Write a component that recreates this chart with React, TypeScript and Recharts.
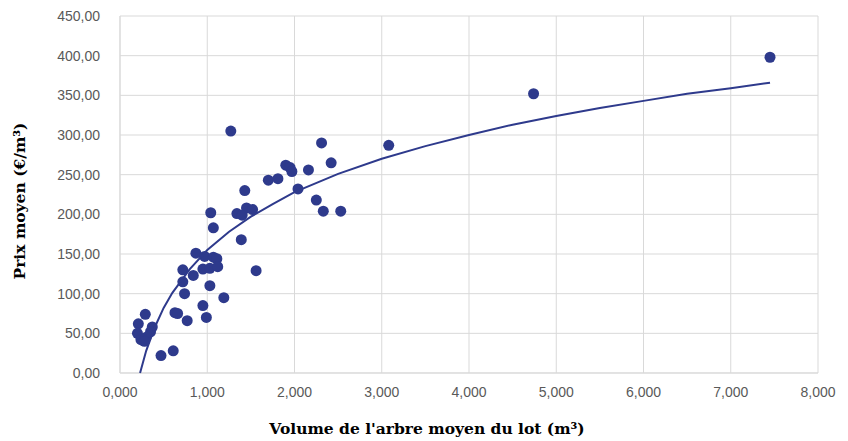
import React from 'react';
import { ScatterChart, Scatter, XAxis, YAxis, CartesianGrid } from 'recharts';

const volumes = [
  7.45, 4.74, 3.08, 1.27, 2.31, 2.42, 1.90, 1.95, 1.97, 2.16,
  1.70, 1.81, 2.04, 2.25, 2.33, 2.53, 1.43, 1.34, 1.45, 1.52,
  1.40, 1.39, 1.04, 1.07, 0.87, 0.97, 1.07, 1.11, 0.72, 0.95,
  1.03, 1.12, 1.56, 0.84, 0.72, 1.03, 0.74, 1.19, 0.95, 0.63,
  0.66, 0.77, 0.99, 0.47, 0.61, 0.21, 0.29, 0.37, 0.20, 0.24,
  0.30, 0.35, 0.28,
];
const prices = [
  398, 352, 287, 305, 290, 265, 262, 259, 254, 256,
  243, 245, 232, 218, 204, 204, 230, 201, 208, 206,
  199, 168, 202, 183, 151, 147, 146, 144, 130, 131,
  132, 134, 129, 123, 115, 110, 100, 95, 85, 76,
  75, 66, 70, 22, 28, 62, 74, 58, 50, 42,
  45, 52, 40,
];

const trendX = [0.23, 0.3, 0.4, 0.5, 0.6, 0.8, 1.0, 1.25, 1.5, 1.75, 2.0, 2.5, 3.0, 3.5, 4.0, 4.5, 5.0, 5.5, 6.0, 6.5, 7.0, 7.45];
const trendY = [0, 28, 58, 82, 101, 131, 155, 178, 197, 213, 228, 251, 270, 286, 300, 313, 324, 334, 343, 352, 359, 366];

const xTicks = [0, 1, 2, 3, 4, 5, 6, 7, 8];
const yTicks = [0, 50, 100, 150, 200, 250, 300, 350, 400, 450];

const xTitle = "Volume de l'arbre moyen du lot (m³)";
const yTitle = 'Prix moyen (€/m³)';

const points = volumes.map((v, i) => ({ x: v, y: prices[i] }));
const trend = trendX.map((v, i) => ({ x: v, y: trendY[i] }));

const NAVY = '#2e3a8c';
const GRID = '#d9d9d9';
const TICK = { fill: '#595959', fontSize: 14, fontFamily: 'Liberation Sans, Arial, sans-serif' };
const TITLE_FONT = 'DejaVu Serif, serif';

const fmt = (d: number) => (v: number) => v.toFixed(d).replace('.', ',');

export default function App() {
  return (
    <div style={{ position: 'absolute', left: 0, top: 0, background: '#fff' }}>
      <ScatterChart width={848} height={441} margin={{ top: 16, right: 30, left: 0, bottom: 0 }}>
        <CartesianGrid stroke={GRID} strokeWidth={1} />
        <XAxis
          type="number"
          dataKey="x"
          domain={[0, 8]}
          ticks={xTicks}
          tickFormatter={fmt(3)}
          height={68}
          tickSize={0}
          tickMargin={14}
          axisLine={{ stroke: GRID }}
          tick={TICK}
          label={{
            content: () => (
              <text x={427} y={434} textAnchor="middle" fontFamily={TITLE_FONT} fontWeight="bold" fontSize={15.5} fill="#000">
                {xTitle}
              </text>
            ),
          }}
        />
        <YAxis
          type="number"
          dataKey="y"
          domain={[0, 450]}
          ticks={yTicks}
          tickFormatter={fmt(2)}
          width={120}
          tickSize={0}
          tickMargin={20}
          axisLine={{ stroke: GRID }}
          tick={TICK}
          label={{
            content: () => (
              <text
                x={25}
                y={201}
                transform="rotate(-90 25 201)"
                textAnchor="middle"
                fontFamily={TITLE_FONT}
                fontWeight="bold"
                fontSize={15.5}
                fill="#000"
              >
                {yTitle}
              </text>
            ),
          }}
        />
        <Scatter data={points} fill={NAVY} isAnimationActive={false} shape={(p: any) => <circle cx={p.cx} cy={p.cy} r={5.5} fill={NAVY} />} />
        <Scatter
          data={trend}
          line={{ stroke: NAVY, strokeWidth: 2 }}
          lineType="joint"
          shape={() => <g />}
          isAnimationActive={false}
        />
      </ScatterChart>
    </div>
  );
}
